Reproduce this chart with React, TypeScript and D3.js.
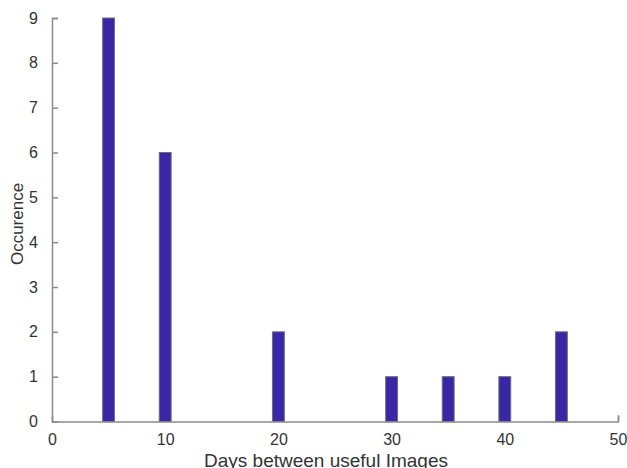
import { useEffect, useRef } from 'react';
import * as d3 from 'd3';

// Histogram of gaps between useful images
const days = [5, 10, 20, 30, 35, 40, 45];
const occurrences = [9, 6, 2, 1, 1, 1, 2];
const xTicks = [0, 10, 20, 30, 40, 50];
const yTicks = [0, 1, 2, 3, 4, 5, 6, 7, 8, 9];

export default function App() {
  const svgRef = useRef<SVGSVGElement>(null);

  useEffect(() => {
    if (!svgRef.current) return;

    const width = 627;
    const height = 468;
    const margin = { top: 18, right: 9, bottom: 46.5, left: 52 };
    const innerWidth = width - margin.left - margin.right;
    const innerHeight = height - margin.top - margin.bottom;

    const svg = d3.select(svgRef.current);
    svg.selectAll('*').remove();
    svg.attr('width', width).attr('height', height);

    const g = svg
      .append('g')
      .attr('transform', `translate(${margin.left},${margin.top})`);

    const xScale = d3.scaleLinear().domain([0, 50]).range([0, innerWidth]);
    const yScale = d3.scaleLinear().domain([0, 9]).range([innerHeight, 0]);

    const barWidth = xScale(1.05) - xScale(0);
    const data = days.map((d, i) => ({ day: d, count: occurrences[i] }));

    // Bars
    g.selectAll('rect')
      .data(data)
      .enter()
      .append('rect')
      .attr('x', (d) => xScale(d.day) - barWidth / 2)
      .attr('y', (d) => yScale(d.count))
      .attr('width', barWidth)
      .attr('height', (d) => innerHeight - yScale(d.count))
      .attr('fill', '#3a27a6')
      .attr('stroke', '#6e6e7e')
      .attr('stroke-width', 1);

    const axisColor = '#8a8a8a';
    const textColor = '#333333';
    const font = 'Liberation Sans, Arial, sans-serif';

    // Y axis (ticks point inward)
    const yAxis = g
      .append('g')
      .call(d3.axisLeft(yScale).tickValues(yTicks).tickSize(-6).tickPadding(14).tickFormat(d3.format('d')));
    yAxis.select('.domain').attr('stroke', axisColor).attr('stroke-width', 1.5);
    yAxis.selectAll('.tick line').attr('stroke', axisColor).attr('stroke-width', 1.5);
    yAxis
      .selectAll('.tick text')
      .attr('fill', textColor)
      .attr('font-size', '16px')
      .attr('font-family', font);

    // X axis (ticks point inward)
    const xAxis = g
      .append('g')
      .attr('transform', `translate(0,${innerHeight})`)
      .call(d3.axisBottom(xScale).tickValues(xTicks).tickSize(-6).tickPadding(12).tickFormat(d3.format('d')));
    xAxis.select('.domain').attr('stroke', axisColor).attr('stroke-width', 1.5);
    xAxis.selectAll('.tick line').attr('stroke', axisColor).attr('stroke-width', 1.5);
    xAxis
      .selectAll('.tick text')
      .attr('fill', textColor)
      .attr('font-size', '16px')
      .attr('font-family', font);
    // only the end tick is visible on the x axis in the original
    xAxis
      .selectAll<SVGGElement, number>('.tick')
      .filter((d) => d !== 50)
      .select('line')
      .remove();
    yAxis
      .selectAll<SVGGElement, number>('.tick')
      .filter((d) => d === 0)
      .select('line')
      .remove();

    // Axis labels
    svg
      .append('text')
      .attr('x', 326)
      .attr('y', 466.5)
      .style('text-anchor', 'middle')
      .attr('fill', textColor)
      .attr('font-size', '19px')
      .attr('font-family', font)
      .text('Days between useful Images');

    svg
      .append('text')
      .attr('transform', `translate(23, 224) rotate(-90)`)
      .style('text-anchor', 'middle')
      .attr('fill', textColor)
      .attr('font-size', '17px')
      .attr('font-family', font)
      .text('Occurence');
  }, []);

  return (
    <svg
      ref={svgRef}
      style={{ position: 'absolute', left: 0, top: 0, background: '#ffffff' }}
    />
  );
}
